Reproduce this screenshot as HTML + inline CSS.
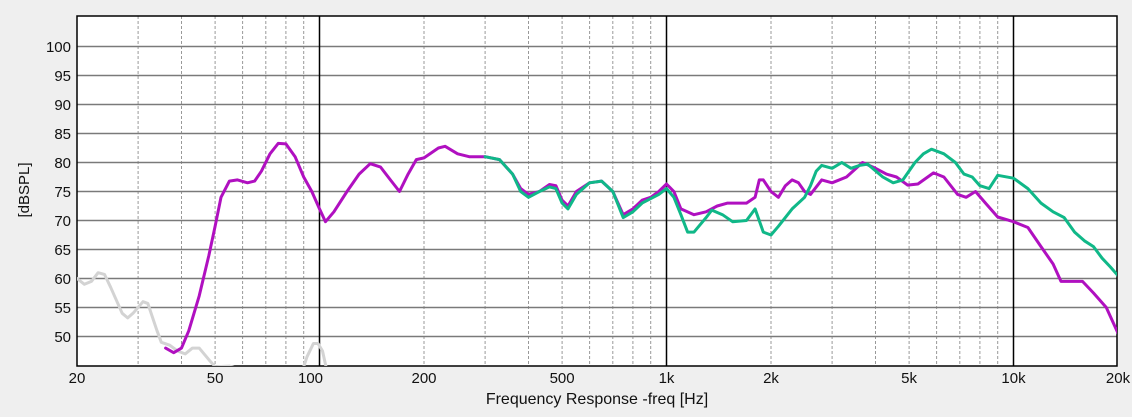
<!DOCTYPE html>
<html><head><meta charset="utf-8"><style>
html,body{margin:0;padding:0;background:#efefef;}
svg{display:block;font-family:"Liberation Sans",sans-serif;}
</style></head><body>
<svg id="s" width="1132" height="417" xmlns="http://www.w3.org/2000/svg"></svg>
<script>
const L=77,R=1117,T=16,B=366;
const X=f=>77+Math.log10(f/20)*347;
const Y=v=>46.5+(100-v)*5.8;
let h='<rect x="0" y="0" width="1132" height="417" fill="#efefef"/>';
h+=`<rect x="${L}" y="${T}" width="${R-L}" height="${B-T}" fill="#fff"/>`;
h+=`<defs><clipPath id="c"><rect x="${L}" y="${T}" width="${R-L}" height="${B-T}"/></clipPath></defs>`;
// minor verticals
[30,40,50,60,70,80,90,200,300,400,500,600,700,800,900,2000,3000,4000,5000,6000,7000,8000,9000].forEach(f=>{
 const x=X(f).toFixed(1);
 h+=`<line x1="${x}" y1="${T}" x2="${x}" y2="${B}" stroke="#999" stroke-width="1" stroke-dasharray="3,2"/>`;
});
for(let v=50;v<=100;v+=5){const y=Y(v).toFixed(1);
 h+=`<line x1="${L}" y1="${y}" x2="${R}" y2="${y}" stroke="#7a7a7a" stroke-width="1.6"/>`;
 h+=`<text x="71" y="${(Y(v)+5.5).toFixed(1)}" font-size="15" text-anchor="end" fill="#111">${v}</text>`;}
[100,1000,10000].forEach(f=>{const x=X(f).toFixed(1);
 h+=`<line x1="${x}" y1="${T}" x2="${x}" y2="${B}" stroke="#000" stroke-width="1.5"/>`;});
h+=`<rect x="${L}" y="${T}" width="${R-L}" height="${B-T}" fill="none" stroke="#000" stroke-width="1.5"/>`;
[[20,'20'],[50,'50'],[100,'100'],[200,'200'],[500,'500'],[1000,'1k'],[2000,'2k'],[5000,'5k'],[10000,'10k'],[20000,'20k']].forEach(([f,t])=>{
 let x=X(f); if(f==100)x-=9; if(f==20)x+=0;
 h+=`<text x="${x.toFixed(1)}" y="383" font-size="15" text-anchor="middle" fill="#111">${t}</text>`;});
h+=`<text x="597" y="404" font-size="16" text-anchor="middle" fill="#111">Frequency Response -freq [Hz]</text>`;
h+=`<text transform="translate(29,190) rotate(-90)" font-size="15" text-anchor="middle" fill="#111">[dBSPL]</text>`;
function line(d,col,w){return `<polyline clip-path="url(#c)" fill="none" stroke="${col}" stroke-width="${w}" stroke-linejoin="round" stroke-linecap="round" points="${d.map(p=>X(p[0]).toFixed(1)+','+Y(p[1]).toFixed(1)).join(' ')}"/>`;}
const gray=[[20,60],[21,59],[22,59.5],[23,61],[24,60.7],[25,58.5],[27,54],[28,53.2],[29,54],[31,56],[32,55.7],[34,51],[35,49],[37,48.5],[39,47.5],[41,47],[43,48],[45,48],[48,46],[50,44.8],[55,44.9],[58,44.5]];
const gray2=[[88,43],[92,46.5],[96,48.8],[99,48.8],[102,47.5],[106,43]];
const mag=[[36,48],[38,47.2],[40,48],[42,51],[45,57],[48,64],[50,69],[52,74],[55,76.8],[58,77],[62,76.5],[65,76.8],[68,78.5],[72,81.5],[76,83.3],[80,83.2],[85,81],[90,77.5],[95,75],[100,72],[104,69.8],[110,71.5],[120,75],[130,78],[140,79.8],[150,79.2],[160,77],[170,75],[180,78],[190,80.5],[200,80.8],[220,82.5],[230,82.8],[250,81.5],[270,81],[300,81],[330,80.5],[360,78],[380,75.5],[400,74.5],[430,75],[460,76.2],[480,76],[500,73.5],[520,72.5],[550,75],[600,76.5],[650,76.8],[700,75],[750,71],[800,72],[850,73.5],[900,74],[950,75],[1000,76.3],[1050,75],[1100,72],[1200,71],[1300,71.5],[1400,72.5],[1500,73],[1700,73],[1800,74],[1850,77],[1900,77],[2000,75],[2100,74],[2200,76],[2300,77],[2400,76.5],[2500,75],[2600,74.5],[2800,77],[3000,76.5],[3300,77.5],[3670,80],[4000,79],[4300,78],[4600,77.5],[4950,76.1],[5300,76.3],[5880,78.2],[6300,77.5],[6900,74.5],[7300,74],[7770,75],[8300,73],[9000,70.6],[10000,69.8],[11000,68.8],[12000,65.5],[13000,62.5],[13700,59.5],[15800,59.5],[17000,57.5],[18500,55],[19500,52],[20200,50]];
const grn=[[300,81],[330,80.5],[360,78],[380,75],[400,74],[430,75],[460,75.8],[480,75.5],[500,73],[520,72],[550,74.5],[600,76.5],[650,76.8],[700,75],[750,70.5],[800,71.5],[850,73],[950,74.5],[1000,75.5],[1050,74],[1100,71],[1150,68],[1200,68],[1300,70.5],[1350,71.8],[1450,71],[1550,69.8],[1700,70],[1800,72],[1900,68],[2000,67.5],[2100,69],[2300,72],[2500,74],[2600,76],[2700,78.5],[2800,79.5],[3000,79],[3200,80],[3400,79],[3600,79.5],[3800,79.7],[4200,77.5],[4500,76.5],[4800,77],[5200,80],[5500,81.5],[5800,82.3],[6300,81.5],[6800,80],[7200,78],[7600,77.5],[8000,76],[8500,75.5],[9000,77.8],[10000,77.3],[11000,75.5],[12000,73],[13000,71.5],[14000,70.5],[15000,68],[16000,66.5],[17000,65.5],[18000,63.5],[19000,62],[20000,60.5]];
h+=line(gray,'#d3d3d3',3)+line(gray2,'#d3d3d3',3)+line(mag,'#b010c0',3)+line(grn,'#10b888',3);
document.getElementById('s').innerHTML=h;
</script>
</body></html>
